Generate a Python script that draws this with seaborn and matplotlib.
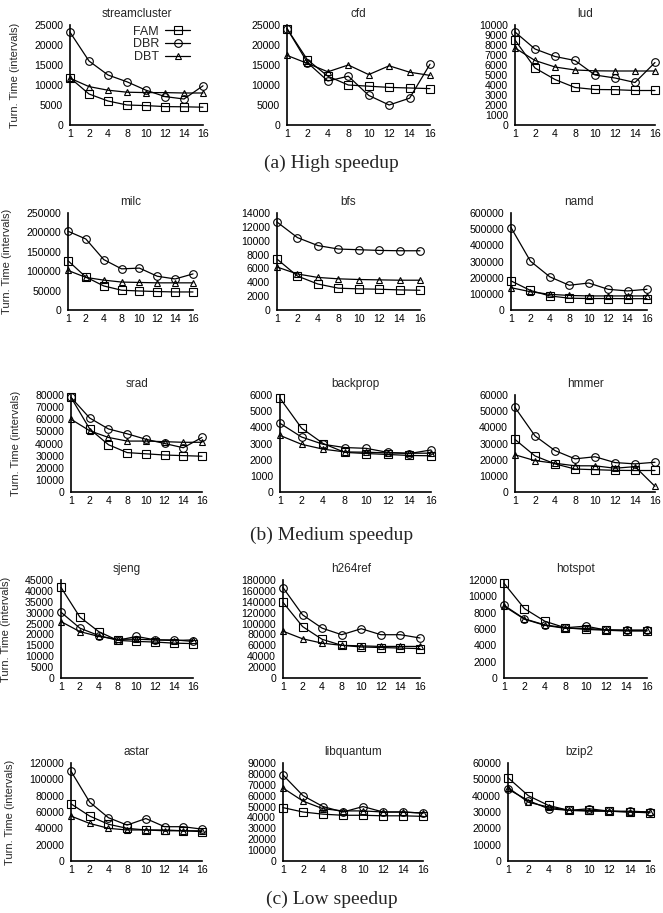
import numpy as np
import pandas as pd
import seaborn as sns
import matplotlib.pyplot as plt

## Donnees
threads = ["1", "2", "4", "8", "10", "12", "14", "16"]

streamcluster_fam = [11800, 7750, 6000, 5000, 4850, 4600, 4550, 4450]
streamcluster_dbr = [23200, 16000, 12500, 10800, 8700, 7100, 6500, 9800]
streamcluster_dbt = [11700, 9600, 8700, 8200, 8100, 8100, 8000, 8000]

cfd_fam = [24100, 16300, 12200, 10000, 9700, 9400, 9250, 9100]
cfd_dbr = [24100, 15600, 11000, 12200, 7400, 5000, 6700, 15200]
cfd_dbt = [17400, 15400, 13300, 15000, 12600, 14800, 13200, 12400]

lud_fam = [8500, 5700, 4550, 3750, 3550, 3530, 3450, 3450]
lud_dbr = [9300, 7600, 6850, 6450, 5000, 4700, 4250, 6250]
lud_dbt = [7700, 6450, 5800, 5500, 5420, 5400, 5400, 5400]

milc_fam = [127000, 85000, 62000, 51000, 49000, 47500, 46500, 46500]
milc_dbr = [203000, 183000, 130000, 106000, 108000, 87000, 80000, 93000]
milc_dbt = [102000, 84000, 77000, 72000, 71000, 70000, 70000, 70000]

bfs_fam = [7350, 4900, 3750, 3150, 3050, 3000, 2900, 2850]
bfs_dbr = [12700, 10450, 9300, 8800, 8700, 8600, 8550, 8550]
bfs_dbt = [6200, 5200, 4700, 4500, 4400, 4350, 4300, 4300]

namd_fam = [180000, 121000, 87000, 73000, 71000, 71000, 70000, 70000]
namd_dbr = [510000, 302000, 205000, 153000, 167000, 128000, 118000, 128000]
namd_dbt = [138000, 113000, 97000, 90000, 87000, 87000, 87000, 87000]

srad_fam = [78000, 52000, 39000, 32500, 31500, 30500, 30000, 29500]
srad_dbr = [78000, 61000, 52000, 48000, 43500, 40000, 36500, 45000]
srad_dbt = [60000, 50500, 45000, 42000, 42000, 41500, 41000, 41000]

backprop_fam = [5800, 3950, 3000, 2450, 2380, 2320, 2260, 2240]
backprop_dbr = [4250, 3400, 2950, 2750, 2700, 2450, 2380, 2600]
backprop_dbt = [3500, 2950, 2650, 2480, 2460, 2420, 2400, 2400]

hmmer_fam = [32500, 22300, 17400, 14200, 13800, 13400, 13300, 13300]
hmmer_dbr = [52300, 34700, 25600, 20500, 21800, 18200, 17400, 18400]
hmmer_dbt = [23000, 19400, 17800, 16200, 16200, 14700, 15700, 3500]

sjeng_fam = [41600, 28000, 21300, 17300, 16800, 16500, 16000, 15800]
sjeng_dbr = [30200, 22900, 19500, 17300, 19100, 17500, 17500, 16800]
sjeng_dbt = [25900, 21300, 19100, 17800, 17800, 17500, 17200, 17500]

h264ref_fam = [139000, 94500, 71000, 60000, 57000, 56000, 55000, 54000]
h264ref_dbr = [166000, 116000, 91500, 79500, 90500, 79500, 79500, 73500]
h264ref_dbt = [86000, 72000, 64000, 60000, 59000, 58000, 58000, 58000]

hotspot_fam = [11600, 8500, 6950, 6150, 5950, 5850, 5750, 5750]
hotspot_dbr = [8900, 7250, 6500, 6150, 6350, 5870, 5830, 5870]
hotspot_dbt = [8800, 7200, 6450, 6080, 6080, 5900, 5870, 5830]

astar_fam = [70000, 55000, 45000, 40000, 38000, 38000, 37000, 36000]
astar_dbr = [110000, 72000, 53000, 44000, 52000, 42000, 42000, 39000]
astar_dbt = [55000, 46000, 40000, 38000, 38000, 37000, 37000, 37000]

libquantum_fam = [49000, 45000, 43000, 42000, 42000, 41500, 41500, 41000]
libquantum_dbr = [79000, 60000, 50000, 45000, 50000, 45000, 45000, 44000]
libquantum_dbt = [67000, 55000, 48000, 46000, 46000, 45000, 45000, 44000]

bzip2_fam = [51000, 40000, 34000, 31000, 31000, 30500, 30000, 29500]
bzip2_dbr = [44000, 37000, 32000, 31000, 32000, 30500, 30500, 30000]
bzip2_dbt = [45000, 36000, 33000, 31000, 30500, 30500, 30000, 30000]

## (nom, FAM, DBR, DBT, ymax, pas)
panels = [
    ("streamcluster", streamcluster_fam, streamcluster_dbr, streamcluster_dbt, 25000, 5000),
    ("cfd", cfd_fam, cfd_dbr, cfd_dbt, 25000, 5000),
    ("lud", lud_fam, lud_dbr, lud_dbt, 10000, 1000),
    ("milc", milc_fam, milc_dbr, milc_dbt, 250000, 50000),
    ("bfs", bfs_fam, bfs_dbr, bfs_dbt, 14000, 2000),
    ("namd", namd_fam, namd_dbr, namd_dbt, 600000, 100000),
    ("srad", srad_fam, srad_dbr, srad_dbt, 80000, 10000),
    ("backprop", backprop_fam, backprop_dbr, backprop_dbt, 6000, 1000),
    ("hmmer", hmmer_fam, hmmer_dbr, hmmer_dbt, 60000, 10000),
    ("sjeng", sjeng_fam, sjeng_dbr, sjeng_dbt, 45000, 5000),
    ("h264ref", h264ref_fam, h264ref_dbr, h264ref_dbt, 180000, 20000),
    ("hotspot", hotspot_fam, hotspot_dbr, hotspot_dbt, 12000, 2000),
    ("astar", astar_fam, astar_dbr, astar_dbt, 120000, 20000),
    ("libquantum", libquantum_fam, libquantum_dbr, libquantum_dbt, 90000, 10000),
    ("bzip2", bzip2_fam, bzip2_dbr, bzip2_dbt, 60000, 10000),
]

captions = ["(a) High speedup", "(b) Medium speedup", "(c) Low speedup"]

## Mise en page (pixels): haut/bas de chaque ligne, gauche/droite de chaque case
W, H = 663, 913
rows_px = [(25, 125), (213, 310), (395, 492), (580, 678), (763, 861)]
cols_px = [
    [(70, 203), (287, 430), (515, 655)],
    [(68, 193), (277, 420), (511, 647)],
    [(71, 202), (280, 431), (515, 655)],
    [(61, 193), (283, 420), (504, 647)],
    [(71, 202), (283, 423), (508, 650)],
]
caption_y = [163, 535, 899]

sns.set_theme(style="white")
plt.rcParams['font.family'] = ['Liberation Sans', 'DejaVu Sans']

fig = plt.figure(figsize=(W / 100, H / 100), dpi=100)

markers = {"FAM": "s", "DBR": "o", "DBT": "^"}
x = np.arange(len(threads))

for i, (name, fam, dbr, dbt, ymax, step) in enumerate(panels):
    r, c = divmod(i, 3)
    top, bot = rows_px[r]
    left, right = cols_px[r][c]
    ax = fig.add_axes([left / W, 1 - bot / H, (right - left) / W, (bot - top) / H])

    df = pd.DataFrame({
        "x": np.tile(x, 3),
        "val": fam + dbr + dbt,
        "serie": np.repeat(["FAM", "DBR", "DBT"], len(threads)),
    })
    for serie in ["FAM", "DBR", "DBT"]:
        sub = df[df["serie"] == serie]
        sns.lineplot(data=sub, x="x", y="val", ax=ax, color="black", lw=0.9,
                     marker=markers[serie], markersize=5.5 if serie != "DBT" else 5,
                     markerfacecolor="none", markeredgecolor="black", markeredgewidth=0.8,
                     label=serie, clip_on=False)

    ax.set_xlim(0, len(threads) - 1)
    ax.set_ylim(0, ymax)
    ax.set_xticks(x)
    ax.set_xticklabels(threads)
    ax.set_yticks(np.arange(0, ymax + 1, step))
    ax.tick_params(axis="both", length=0, labelsize=7.6, colors="black")
    ax.tick_params(axis="y", pad=5)
    ax.tick_params(axis="x", pad=3)
    for s in ["top", "right"]:
        ax.spines[s].set_visible(False)
    for s in ["left", "bottom"]:
        ax.spines[s].set_color("black")
        ax.spines[s].set_linewidth(1.2)
    ax.set_xlabel("")
    ax.set_title(name, fontsize=8.5, pad=6)
    if c == 0:
        ax.set_ylabel("Turn. Time (intervals)", fontsize=8, labelpad=10)
    else:
        ax.set_ylabel("")

    if i == 0:
        ax.legend(loc="upper right", bbox_to_anchor=(0.97, 1.08), markerfirst=False,
                  frameon=False, fontsize=9, handlelength=2.0, labelspacing=0.05,
                  handletextpad=0.5, borderpad=0.2)
    else:
        ax.get_legend().remove()

for cap, y in zip(captions, caption_y):
    fig.text(0.5, 1 - y / H, cap, ha="center", va="center", fontsize=14,
             family=["Liberation Serif", "DejaVu Serif"])

plt.savefig("out.png", dpi=100)
